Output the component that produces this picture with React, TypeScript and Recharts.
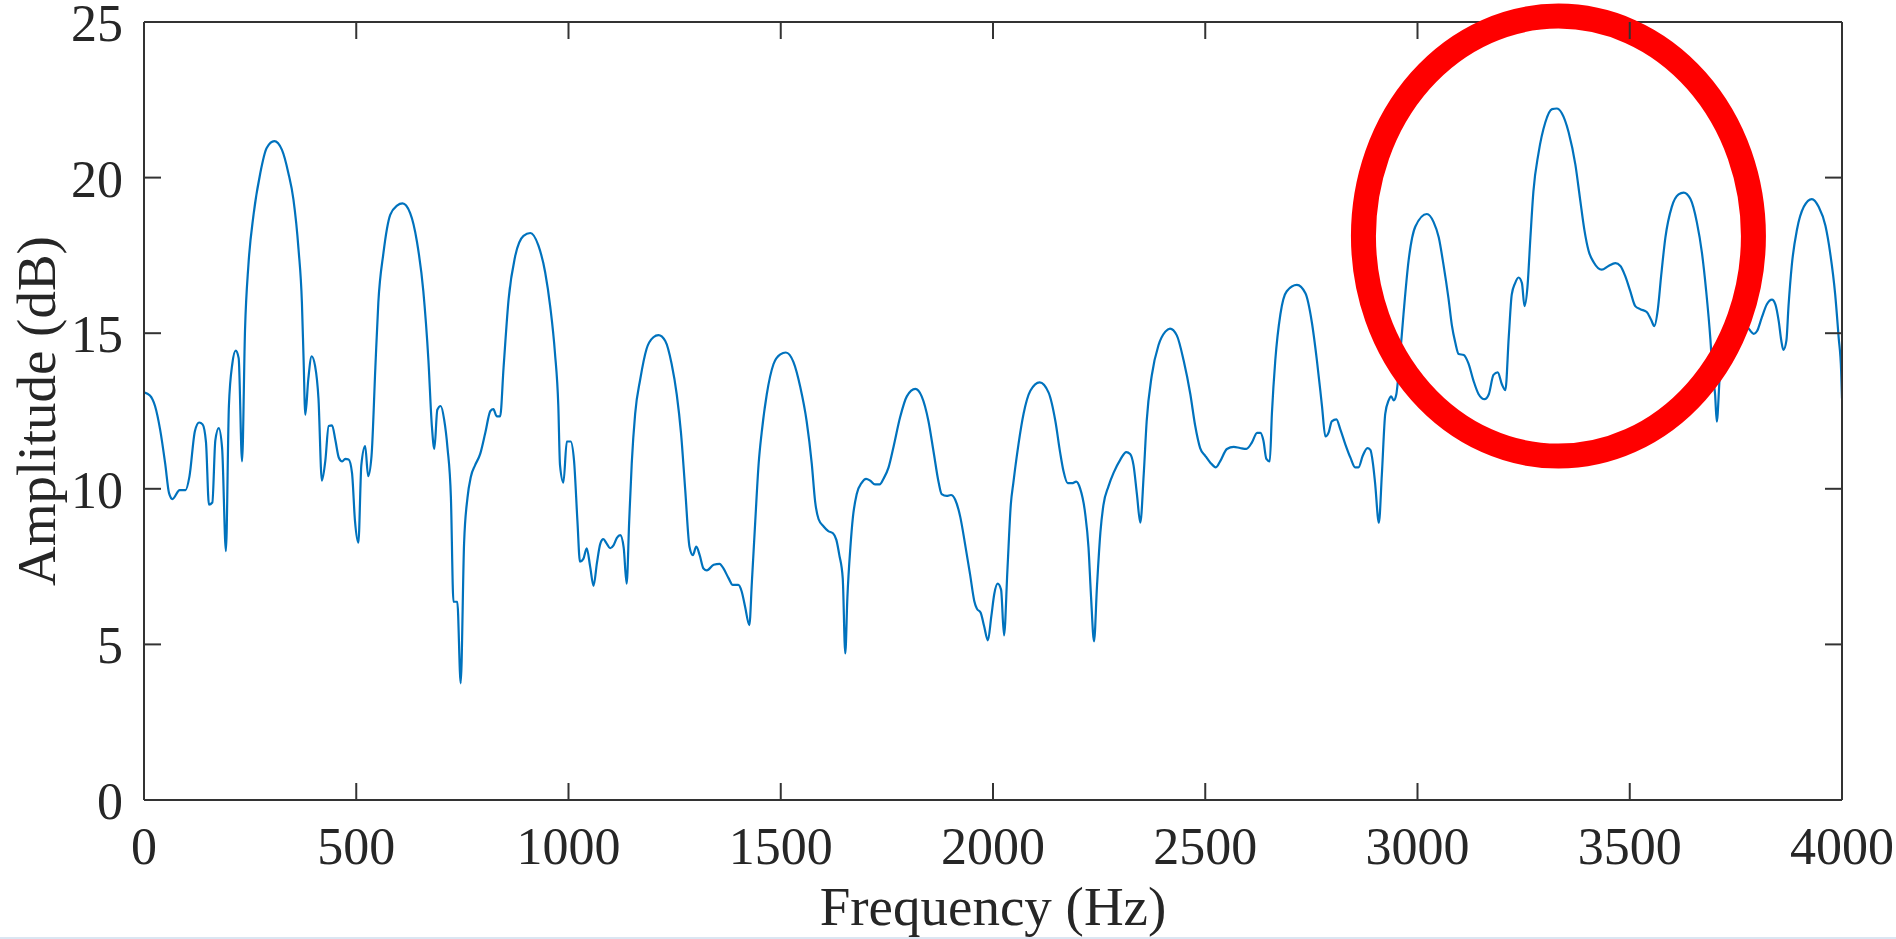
import React from 'react';
import { LineChart, Line, XAxis, YAxis, ReferenceDot } from 'recharts';

// spectrum, Hz -> dB
const freqHz = [
  0, 14, 26, 38, 50, 59, 67, 84, 98, 107, 120, 130, 138, 146, 153, 161, 168, 176, 184, 193,
  200, 208, 216, 223, 231, 238, 246, 258, 274, 289, 307, 325, 340, 352, 364, 372, 376, 380, 387, 395,
  403, 411, 419, 427, 435, 443, 451, 459, 467, 474, 482, 490, 497, 505, 512, 521, 528, 536, 545, 552,
  564, 580, 596, 609, 627, 643, 658, 670, 678, 684, 691, 699, 707, 715, 723, 729, 738, 746, 754, 762,
  770, 780, 792, 804, 816, 823, 831, 839, 847, 859, 874, 894, 910, 929, 945, 957, 968, 976, 980, 988,
  996, 1005, 1013, 1021, 1027, 1035, 1043, 1051, 1059, 1067, 1075, 1082, 1090, 1098, 1106, 1114, 1122, 1130, 1137, 1143,
  1149, 1157, 1169, 1184, 1200, 1212, 1228, 1243, 1255, 1265, 1275, 1285, 1293, 1301, 1309, 1318, 1326, 1342, 1356, 1365,
  1377, 1387, 1400, 1408, 1416, 1426, 1432, 1440, 1448, 1455, 1467, 1483, 1499, 1512, 1530, 1546, 1561, 1573, 1581, 1589,
  1601, 1612, 1623, 1631, 1638, 1646, 1652, 1657, 1664, 1670, 1679, 1691, 1701, 1711, 1722, 1733, 1742, 1754, 1766, 1781,
  1797, 1817, 1832, 1848, 1860, 1872, 1879, 1891, 1901, 1911, 1923, 1934, 1946, 1956, 1962, 1971, 1979, 1988, 1996, 2003,
  2011, 2019, 2026, 2034, 2042, 2048, 2060, 2072, 2088, 2110, 2131, 2147, 2158, 2166, 2176, 2186, 2196, 2205, 2217, 2225,
  2231, 2238, 2245, 2253, 2260, 2272, 2284, 2300, 2314, 2323, 2331, 2339, 2347, 2355, 2362, 2374, 2390, 2406, 2417, 2433,
  2449, 2465, 2476, 2488, 2500, 2512, 2525, 2535, 2551, 2567, 2582, 2597, 2610, 2622, 2630, 2637, 2644, 2652, 2657, 2665,
  2677, 2692, 2716, 2736, 2751, 2763, 2775, 2783, 2791, 2798, 2809, 2818, 2830, 2842, 2853, 2861, 2871, 2882, 2889, 2895,
  2900, 2909, 2916, 2924, 2932, 2938, 2944, 2950, 2958, 2967, 2979, 2995, 3022, 3038, 3050, 3061, 3073, 3081, 3089, 3097,
  3109, 3120, 3132, 3144, 3158, 3168, 3179, 3189, 3199, 3207, 3215, 3222, 3230, 3238, 3246, 3252, 3259, 3266, 3273, 3285,
  3301, 3317, 3328, 3340, 3356, 3372, 3383, 3393, 3403, 3415, 3434, 3450, 3466, 3478, 3489, 3501, 3513, 3525, 3540, 3550,
  3558, 3566, 3574, 3584, 3599, 3615, 3627, 3643, 3658, 3670, 3680, 3690, 3696, 3701, 3705, 3712, 3720, 3735, 3750, 3765,
  3779, 3792, 3800, 3811, 3823, 3835, 3843, 3851, 3857, 3862, 3869, 3874, 3882, 3894, 3910, 3929, 3945, 3961, 3972, 3984,
  3992, 3998, 4000,
];

const amplitudeDb = [
  13.1, 13.0, 12.66, 11.9, 10.8, 9.86, 9.67, 9.96, 9.96, 10.39, 11.86, 12.13, 12.07, 11.5, 9.49, 9.56, 11.55, 11.95, 11.31, 8.0,
  12.66, 14.01, 14.44, 14.2, 10.88, 15.12, 17.2, 18.8, 20.15, 20.95, 21.17, 20.89, 20.15, 19.3, 17.7, 15.98, 14.13, 12.38, 13.52, 14.26,
  13.95, 12.9, 10.26, 10.88, 12.02, 12.04, 11.55, 11.0, 10.88, 10.96, 10.94, 10.51, 8.97, 8.27, 10.76, 11.37, 10.41, 11.06, 13.89, 15.98,
  17.57, 18.8, 19.1, 19.17, 18.86, 17.94, 16.35, 14.13, 12.04, 11.28, 12.54, 12.66, 12.23, 11.31, 9.71, 6.37, 6.37, 3.75, 8.24, 9.71,
  10.39, 10.76, 11.12, 11.8, 12.5, 12.56, 12.33, 12.33, 13.89, 16.1, 17.45, 18.13, 18.22, 17.82, 16.96, 15.85, 14.38, 12.66, 10.76, 10.2,
  11.52, 11.52, 10.91, 8.97, 7.66, 7.75, 8.09, 7.5, 6.88, 7.62, 8.24, 8.38, 8.24, 8.09, 8.18, 8.42, 8.51, 8.11, 6.95, 8.97,
  10.82, 12.41, 13.52, 14.5, 14.87, 14.94, 14.75, 14.01, 13.03, 11.8, 9.96, 8.14, 7.87, 8.14, 7.87, 7.44, 7.38, 7.56, 7.59, 7.44,
  7.13, 6.91, 6.91, 6.7, 6.21, 5.62, 7.01, 8.97, 10.82, 11.8, 13.03, 14.01, 14.32, 14.38, 14.07, 13.27, 12.17, 10.82, 9.59, 9.03,
  8.79, 8.64, 8.57, 8.36, 7.87, 7.13, 4.71, 6.52, 8.11, 9.09, 9.83, 10.2, 10.32, 10.26, 10.14, 10.14, 10.32, 10.69, 11.37, 12.29,
  12.97, 13.21, 12.97, 12.17, 11.19, 10.2, 9.83, 9.77, 9.8, 9.65, 9.09, 8.24, 7.25, 6.39, 6.15, 6.02, 5.59, 5.13, 5.9, 6.62,
  6.95, 6.76, 5.29, 7.4, 9.5, 10.2, 11.43, 12.41, 13.15, 13.42, 13.09, 12.17, 11.18, 10.57, 10.18, 10.18, 10.23, 10.02, 9.22, 8.11,
  6.52, 5.1, 6.88, 8.6, 9.47, 10.08, 10.51, 10.94, 11.18, 11.12, 10.76, 9.83, 8.91, 10.45, 12.17, 13.64, 14.62, 15.05, 15.15, 14.93,
  14.13, 13.03, 12.05, 11.31, 11.06, 10.84, 10.69, 10.88, 11.28, 11.35, 11.31, 11.28, 11.49, 11.8, 11.8, 11.55, 10.96, 10.88, 12.41, 14.13,
  15.61, 16.35, 16.55, 16.28, 15.36, 14.13, 12.66, 11.68, 11.82, 12.17, 12.23, 11.92, 11.43, 11.0, 10.69, 10.69, 11.06, 11.31, 11.25, 10.82,
  10.2, 8.91, 10.45, 12.41, 12.84, 12.97, 12.84, 13.03, 14.13, 15.61, 17.33, 18.43, 18.83, 18.57, 18.08, 17.22, 16.12, 15.25, 14.7, 14.33,
  14.3, 14.03, 13.47, 13.04, 12.88, 13.04, 13.66, 13.74, 13.35, 13.17, 14.88, 16.24, 16.61, 16.79, 16.61, 15.87, 16.48, 18.08, 19.55, 20.78,
  21.77, 22.2, 22.22, 22.07, 21.46, 20.41, 19.31, 18.33, 17.65, 17.28, 17.04, 17.16, 17.25, 17.16, 16.85, 16.36, 15.87, 15.77, 15.68, 15.44,
  15.23, 15.75, 16.85, 18.08, 19.06, 19.46, 19.52, 19.31, 18.57, 17.59, 16.36, 14.8, 13.54, 13.04, 12.16, 13.6, 14.6, 15.3, 15.5, 15.4,
  15.17, 14.98, 15.07, 15.5, 15.93, 16.08, 15.93, 15.38, 14.76, 14.46, 14.76, 15.87, 17.22, 18.33, 19.06, 19.31, 19.06, 18.45, 17.59, 16.24,
  14.88, 13.78, 12.9,
];

const xTicks = [0, 500, 1000, 1500, 2000, 2500, 3000, 3500, 4000];
const yTicks = [0, 5, 10, 15, 20, 25];

// centre of the red highlight ring, in data units
const ringCentre = { f: 3332, db: 18.12 };

const data = freqHz.map((f, i) => ({ f, db: amplitudeDb[i] }));

const AXIS = '#262626';
const FRAME = '#333333';
const FONT = '"Liberation Serif", "Times New Roman", serif';
const TICK_LEN = 17;
const lineStyle = { stroke: FRAME, strokeWidth: 2 };

// inward tick marks drawn by the tick renderer itself (matlab style box)
const BottomTick = (props: any) => {
  const { x, y, payload } = props;
  const axisY = y - 28;
  return (
    <g>
      <line x1={x} x2={x} y1={axisY} y2={axisY - TICK_LEN} stroke={FRAME} strokeWidth={2} />
      <text x={x} y={y} dy={36} textAnchor="middle" fill={AXIS} fontSize={52} fontFamily={FONT}>
        {payload.value}
      </text>
    </g>
  );
};

const TopTick = (props: any) => {
  const { x, y } = props;
  return <line x1={x} x2={x} y1={y} y2={y + TICK_LEN} stroke={FRAME} strokeWidth={2} />;
};

const LeftTick = (props: any) => {
  const { x, y, payload } = props;
  const axisX = x + 21;
  return (
    <g>
      <line x1={axisX} x2={axisX + TICK_LEN} y1={y} y2={y} stroke={FRAME} strokeWidth={2} />
      <text x={x} y={y} dy={19} textAnchor="end" fill={AXIS} fontSize={52} fontFamily={FONT}>
        {payload.value}
      </text>
    </g>
  );
};

const RightTick = (props: any) => {
  const { x, y } = props;
  return <line x1={x} x2={x - TICK_LEN} y1={y} y2={y} stroke={FRAME} strokeWidth={2} />;
};

const XLabel = (props: any) => {
  const vb = props.viewBox || { x: 144, y: 800, width: 1698 };
  return (
    <text x={vb.x + vb.width / 2} y={vb.y + 125} textAnchor="middle" fill={AXIS} fontSize={55} fontFamily={FONT}>
      Frequency (Hz)
    </text>
  );
};

const YLabel = (props: any) => {
  const vb = props.viewBox || { y: 22, height: 778 };
  const cy = vb.y + vb.height / 2;
  return (
    <text x={55} y={cy} transform={`rotate(-90, 55, ${cy})`} textAnchor="middle" fill={AXIS} fontSize={55} fontFamily={FONT}>
      Amplitude (dB)
    </text>
  );
};

const Ring = (props: any) => (
  <ellipse cx={props.cx} cy={props.cy} rx={195} ry={220} fill="none" stroke="#FF0000" strokeWidth={25} />
);

export default function App() {
  return (
    <div style={{ position: 'absolute', left: 0, top: 0, width: 1896, height: 939, background: '#fff' }}>
      <LineChart width={1896} height={939} data={data} margin={{ top: 0, right: 0, bottom: 0, left: 0 }}>
        <XAxis
          dataKey="f"
          type="number"
          domain={[0, 4000]}
          ticks={xTicks}
          allowDataOverflow
          height={139}
          tickSize={0}
          tickMargin={28}
          tickLine={false}
          tick={<BottomTick />}
          axisLine={lineStyle}
          label={<XLabel />}
        />
        <XAxis
          xAxisId="top"
          orientation="top"
          dataKey="f"
          type="number"
          domain={[0, 4000]}
          ticks={xTicks}
          allowDataOverflow
          height={22}
          tickSize={0}
          tickMargin={0}
          tickLine={false}
          tick={<TopTick />}
          axisLine={lineStyle}
        />
        <YAxis
          type="number"
          domain={[0, 25]}
          ticks={yTicks}
          allowDataOverflow
          width={144}
          tickSize={0}
          tickMargin={21}
          tickLine={false}
          tick={<LeftTick />}
          axisLine={lineStyle}
          label={<YLabel />}
        />
        <YAxis
          yAxisId="right"
          orientation="right"
          type="number"
          domain={[0, 25]}
          ticks={yTicks}
          allowDataOverflow
          width={54}
          tickSize={0}
          tickMargin={0}
          tickLine={false}
          tick={<RightTick />}
          axisLine={lineStyle}
        />
        <Line
          type="monotone"
          dataKey="db"
          stroke="#0072BD"
          strokeWidth={2.2}
          dot={false}
          isAnimationActive={false}
        />
        <ReferenceDot x={ringCentre.f} y={ringCentre.db} r={0} ifOverflow="visible" shape={<Ring />} />
      </LineChart>
      <div style={{ position: 'absolute', left: 0, top: 937, width: 1896, height: 2, background: '#dbe6f2' }} />
    </div>
  );
}
